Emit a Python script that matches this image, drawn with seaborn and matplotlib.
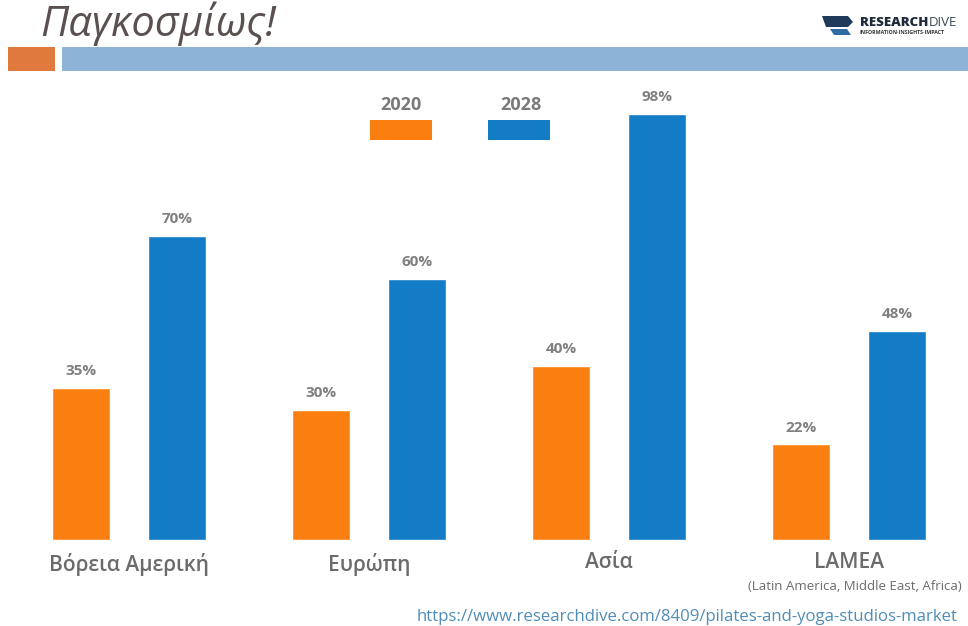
import matplotlib
matplotlib.use("Agg")
import matplotlib.pyplot as plt
from matplotlib.patches import Rectangle, Polygon
import seaborn as sns
import pandas as pd

# ---- data ----
regions = ["Βόρεια Αμερική", "Ευρώπη", "Ασία", "LAMEA"]
years = ["2020", "2028"]
share_2020 = [35, 30, 40, 22]
share_2028 = [70, 60, 98, 48]
colors = ["#FB7F10", "#137CC6"]

df = pd.DataFrame({
    "region": regions * 2,
    "year": [years[0]] * 4 + [years[1]] * 4,
    "share": share_2020 + share_2028,
})

sns.set_theme(style="white")
plt.rcParams["font.family"] = ["Open Sans", "DejaVu Sans"]

W, H = 968, 626
fig = plt.figure(figsize=(W / 100, H / 100), dpi=100)
fig.patch.set_facecolor("white")

def fx(px):
    return px / W

def fy(py):
    return 1 - py / H

# axes: baseline at y=540 px, top at y=60 px, full width
base_px, top_px = 540, 60
ax = fig.add_axes([0, fy(base_px), 1, (base_px - top_px) / H])
sns.barplot(data=df, x="region", y="share", hue="year", palette=colors,
            order=regions, hue_order=years, width=0.8, gap=0.395,
            dodge=True, ax=ax, legend=False, saturation=1)
px_per_unit = 240
ax.set_xlim(-129 / px_per_unit, (W - 129) / px_per_unit)
ax.set_ylim(0, (base_px - top_px) / 4.35)
for s in ax.spines.values():
    s.set_visible(False)
ax.set_yticks([])
ax.set_xlabel("")
ax.set_ylabel("")
ax.set_facecolor("none")
ax.tick_params(axis="x", length=0, pad=9)
ax.set_xticks(range(len(regions)))
ax.set_xticklabels(regions, fontsize=15, fontweight="semibold", color="#6b6b6b")

for cont in ax.containers:
    ax.bar_label(cont, labels=[f"{int(v)}%" for v in cont.datavalues],
                 padding=7, fontsize=11, fontweight="bold", color="#7f7f7f")

# subtitle under LAMEA
fig.text(fx(962), fy(586), "(Latin America, Middle East, Africa)", ha="right",
         va="center", fontsize=9.5, color="#6b6b6b")

# URL
fig.text(fx(958), fy(617), "https://www.researchdive.com/8409/pilates-and-yoga-studios-market",
         ha="right", va="center", fontsize=12.1, color="#4f8db6")

# title
fig.text(fx(40), fy(36), "Παγκοσμίως!", ha="left", va="baseline", fontsize=30,
         style="italic", color="#5a5050")

# header bars
fig.patches.append(Rectangle((fx(8), fy(71)), fx(47), 24 / H, transform=fig.transFigure,
                             facecolor="#E07A3C", edgecolor="none"))
fig.patches.append(Rectangle((fx(62), fy(71)), fx(906), 24 / H, transform=fig.transFigure,
                             facecolor="#8DB3D6", edgecolor="none"))

# legend (text above swatch)
for lbl, col, tx, rx in [(years[0], colors[0], 401, 370), (years[1], colors[1], 521, 488)]:
    fig.text(fx(tx), fy(105), lbl, ha="center", va="center", fontsize=13,
             fontweight="bold", color="#7a7a7a")
    fig.patches.append(Rectangle((fx(rx), fy(140)), fx(62), 20 / H, transform=fig.transFigure,
                                 facecolor=col, edgecolor="none"))

# logo
fig.patches.append(Polygon([[fx(822), fy(16)], [fx(848), fy(16)], [fx(853), fy(22)],
                            [fx(848), fy(27)], [fx(826), fy(27)]], closed=True,
                           transform=fig.transFigure, facecolor="#1f3a5a", edgecolor="none"))
fig.patches.append(Polygon([[fx(830), fy(29)], [fx(847), fy(29)], [fx(851), fy(35)],
                            [fx(834), fy(35)]], closed=True,
                           transform=fig.transFigure, facecolor="#2e6da4", edgecolor="none"))
t1 = fig.text(fx(860), fy(23), "RESEARCH", ha="left", va="center", fontsize=9.5,
              fontweight="heavy", color="#1f2a3a")
fig.canvas.draw()
bb = t1.get_window_extent()
fig.text(bb.x1 / W, fy(23), "DIVE", ha="left", va="center", fontsize=9.5, color="#3a4a5a")
fig.text(fx(860), fy(33), "INFORMATION·INSIGHTS·IMPACT", ha="left", va="center",
         fontsize=3.8, fontweight="bold", color="#333333")

fig.savefig("out.png", dpi=100, facecolor="white")
